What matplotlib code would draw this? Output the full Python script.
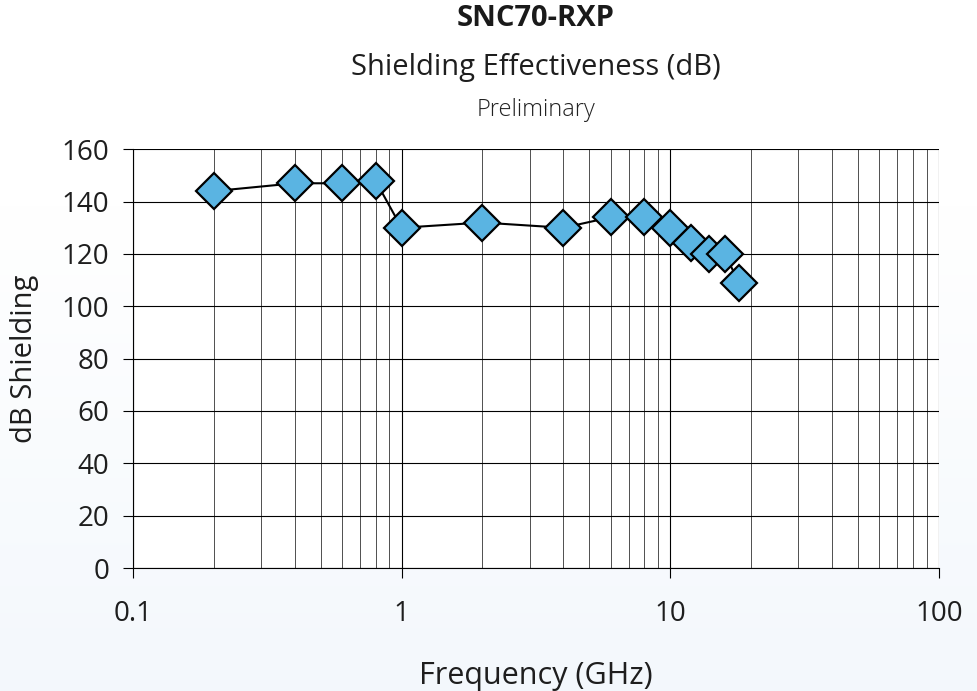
import numpy as np
import matplotlib
matplotlib.use("Agg")
import matplotlib.pyplot as plt
from matplotlib.ticker import FixedLocator, NullFormatter, FuncFormatter

# frequencies (GHz) and shielding (dB)
freq = [0.2, 0.4, 0.6, 0.8, 1, 2, 4, 6, 8, 10, 12, 14, 16, 18]
shielding = [144, 147, 147, 148, 130, 132, 130, 134, 134, 130, 124, 120, 120, 109]

x_ticks = [0.1, 1, 10, 100]
x_labels = ["0.1", "1", "10", "100"]
y_ticks = [0, 20, 40, 60, 80, 100, 120, 140, 160]

plt.rcParams["font.family"] = ["Open Sans", "DejaVu Sans"]

fig = plt.figure(figsize=(9.77, 6.91), dpi=100)

# soft white-to-blue page background
bg = fig.add_axes([0, 0, 1, 1], zorder=-10)
grad = np.linspace(0, 1, 256).reshape(-1, 1)
grad = np.clip((grad - 0.3) / 0.7, 0, 1)
top = np.array([1.0, 1.0, 1.0])
bot = np.array([0.955, 0.972, 0.990])
img = top + (bot - top) * grad[..., None]
bg.imshow(img, aspect="auto", extent=[0, 1, 0, 1], origin="upper")
bg.axis("off")

ax = fig.add_axes([0.136, 0.178, 0.825, 0.606])
ax.set_facecolor("white")
ax.set_xscale("log")
ax.set_xlim(0.1, 100)
ax.set_ylim(0, 160)

ax.xaxis.set_major_locator(FixedLocator(x_ticks))
ax.xaxis.set_major_formatter(FuncFormatter(lambda v, p: x_labels[x_ticks.index(v)] if v in x_ticks else ""))
minors = [m * 10.0 ** e for e in (-1, 0, 1) for m in range(2, 10)]
ax.xaxis.set_minor_locator(FixedLocator(minors))
ax.xaxis.set_minor_formatter(NullFormatter())
ax.yaxis.set_major_locator(FixedLocator(y_ticks))

ax.grid(True, which="major", axis="both", color="black", linewidth=0.8)
ax.grid(True, which="minor", axis="x", color="#333333", linewidth=0.6)
ax.tick_params(axis="x", which="minor", length=0)
ax.tick_params(axis="both", which="major", direction="out", length=7, width=0.8,
               labelsize=20, labelcolor="#1e1e1e")
ax.tick_params(axis="x", which="major", pad=16)
ax.tick_params(axis="y", which="major", pad=10)
for s in ["top", "right"]:
    ax.spines[s].set_visible(False)
for s in ["left", "bottom"]:
    ax.spines[s].set_linewidth(0.8)
ax.set_axisbelow(True)

ax.plot(freq, shielding, color="black", linewidth=1.5, marker="D", markersize=18,
        markerfacecolor="#5ab4e2", markeredgecolor="black", markeredgewidth=1.6,
        clip_on=False, zorder=3)

ax.set_xlabel("Frequency (GHz)", fontsize=22, labelpad=24, color="#1e1e1e")
ax.set_ylabel("dB Shielding", fontsize=21, labelpad=16, color="#1e1e1e")

cx = 0.136 + 0.825 / 2
fig.text(cx, 0.973, "SNC70-RXP", ha="center", va="center", fontsize=21,
         fontweight="bold", fontstretch="condensed", color="#1a1a1a")
fig.text(cx, 0.902, "Shielding Effectiveness (dB)", ha="center", va="center",
         fontsize=21, color="#1e1e1e")
fig.text(cx, 0.841, "Preliminary", ha="center", va="center", fontsize=17,
         fontweight="light", color="#222222")

fig.savefig("out.png", dpi=100)
